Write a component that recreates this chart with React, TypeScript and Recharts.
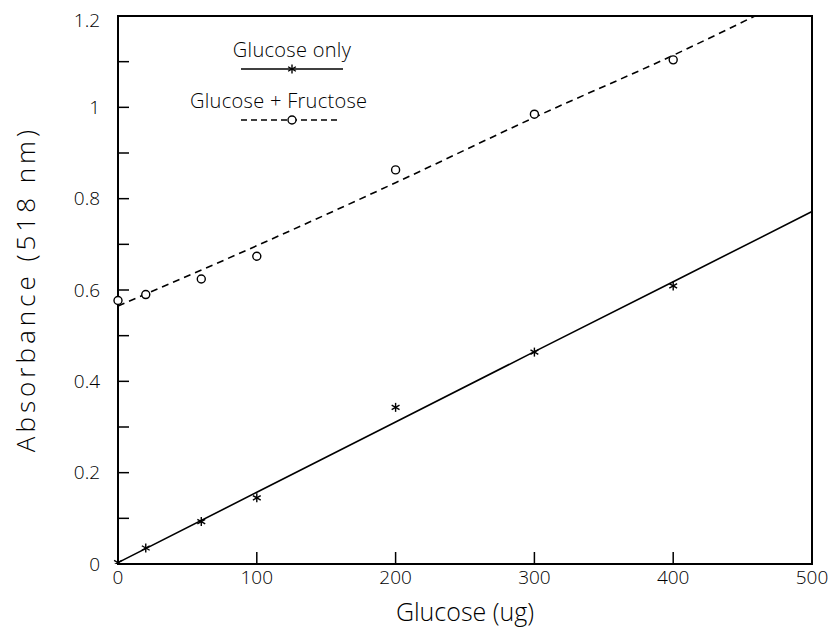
import {
  ComposedChart,
  Line,
  Scatter,
  XAxis,
  YAxis,
  ReferenceArea,
  Customized,
} from "recharts";

// measured points
const glucoseUg = [0, 20, 60, 100, 200, 300, 400];
const glucoseOnly = [0.003, 0.035, 0.093, 0.145, 0.343, 0.464, 0.609];
const glucoseFructose = [0.577, 0.59, 0.624, 0.674, 0.863, 0.985, 1.104];

// fitted curves
const fitUg = [0, 100, 200, 300, 400, 500];
const fitGlucoseOnly = [0.003, 0.157, 0.311, 0.465, 0.618, 0.772];
const fitGlucoseFructose = [0.565, 0.697, 0.835, 0.978, 1.114, 1.262];

const xTicks = [0, 100, 200, 300, 400, 500];
const yMajor = [0, 0.2, 0.4, 0.6, 0.8, 1, 1.2];
const yMinor = [0.1, 0.3, 0.5, 0.7, 0.9, 1.1];
const yTicks = [...yMajor, ...yMinor].sort((a, b) => a - b);

const FONT = "'Open Sans', 'DejaVu Sans', sans-serif";

const onlyPoints = glucoseUg.map((x, i) => ({ x, y: glucoseOnly[i] }));
const fructosePoints = glucoseUg.map((x, i) => ({ x, y: glucoseFructose[i] }));
const onlyFit = fitUg.map((x, i) => ({ x, y: fitGlucoseOnly[i] }));
const fructoseFit = fitUg.map((x, i) => ({ x, y: fitGlucoseFructose[i] }));

function Star({ cx, cy }: any) {
  const r = 4.5;
  const dx = r * 0.87;
  const dy = r * 0.5;
  return (
    <g stroke="#000" strokeWidth={1.4}>
      <line x1={cx} y1={cy - r} x2={cx} y2={cy + r} />
      <line x1={cx - dx} y1={cy - dy} x2={cx + dx} y2={cy + dy} />
      <line x1={cx - dx} y1={cy + dy} x2={cx + dx} y2={cy - dy} />
    </g>
  );
}

function Ring({ cx, cy }: any) {
  return <circle cx={cx} cy={cy} r={4} fill="#fff" stroke="#000" strokeWidth={1.4} />;
}

function YTick({ x, y, payload }: any) {
  const v = payload.value;
  if (!yMajor.some((m) => Math.abs(m - v) < 1e-6)) return null;
  // the top label sits a little lower in the original
  const shift = v > 1.1 ? 4 : 0;
  return (
    <text x={x} y={y + shift} dy="0.35em" textAnchor="end" fontSize={19} fontFamily={FONT} fontWeight={300} fill="#000">
      {String(v)}
    </text>
  );
}

function Extras() {
  const t = { fontFamily: FONT, fontWeight: 300, fill: "#000" };
  return (
    <g>
      <text x={284} y={42} dy="0.35em" textAnchor="middle" fontSize={20} letterSpacing={0.3} {...t}>
        Glucose only
      </text>
      <line x1={233} y1={61} x2={335} y2={61} stroke="#000" strokeWidth={1.5} />
      <Star cx={284} cy={61} />
      <text x={182} y={93} dy="0.35em" textAnchor="start" fontSize={20} letterSpacing={0.3} {...t}>
        Glucose + Fructose
      </text>
      <line x1={233} y1={112} x2={329} y2={112} stroke="#000" strokeWidth={1.5} strokeDasharray="6 4" />
      <Ring cx={284} cy={112} />
      <text x={457} y={604} dy="0.35em" textAnchor="middle" fontSize={25} {...t}>
        Glucose (ug)
      </text>
      <text
        x={18}
        y={281}
        dy="0.35em"
        textAnchor="middle"
        fontSize={26}
        letterSpacing={4}
        transform="rotate(-90 18 281)"
        {...t}
      >
        Absorbance (518 nm)
      </text>
    </g>
  );
}

export default function App() {
  return (
    <ComposedChart
      width={820}
      height={620}
      margin={{ top: 8, right: 16, bottom: 0, left: 0 }}
      style={{ overflow: "visible" }}
    >
      <XAxis
        type="number"
        dataKey="x"
        domain={[0, 500]}
        ticks={xTicks}
        height={64}
        axisLine={{ stroke: "#000", strokeWidth: 2 }}
        tickLine={{ stroke: "#000", strokeWidth: 1.5 }}
        tickSize={-12}
        tickMargin={19}
        tick={{ fill: "#000", fontSize: 19, fontFamily: FONT, fontWeight: 300 }}
      />
      <YAxis
        type="number"
        dataKey="y"
        domain={[0, 1.2]}
        allowDataOverflow
        ticks={yTicks}
        width={110}
        axisLine={{ stroke: "#000", strokeWidth: 2 }}
        tickLine={{ stroke: "#000", strokeWidth: 1.5 }}
        tickSize={-11}
        tickMargin={29}
        tick={<YTick />}
        interval={0}
      />
      <ReferenceArea x1={0} x2={500} y1={0} y2={1.2} fill="none" stroke="#000" strokeWidth={2} fillOpacity={0} />
      <Line
        data={onlyFit}
        dataKey="y"
        type="linear"
        stroke="#000"
        strokeWidth={1.6}
        dot={false}
        activeDot={false}
        isAnimationActive={false}
      />
      <Line
        data={fructoseFit}
        dataKey="y"
        type="monotone"
        stroke="#000"
        strokeWidth={1.6}
        strokeDasharray="7 5"
        dot={false}
        activeDot={false}
        isAnimationActive={false}
      />
      <Scatter data={onlyPoints} dataKey="y" shape={<Star />} isAnimationActive={false} />
      <Scatter data={fructosePoints} dataKey="y" shape={<Ring />} isAnimationActive={false} />
      <Customized component={<Extras />} />
    </ComposedChart>
  );
}
